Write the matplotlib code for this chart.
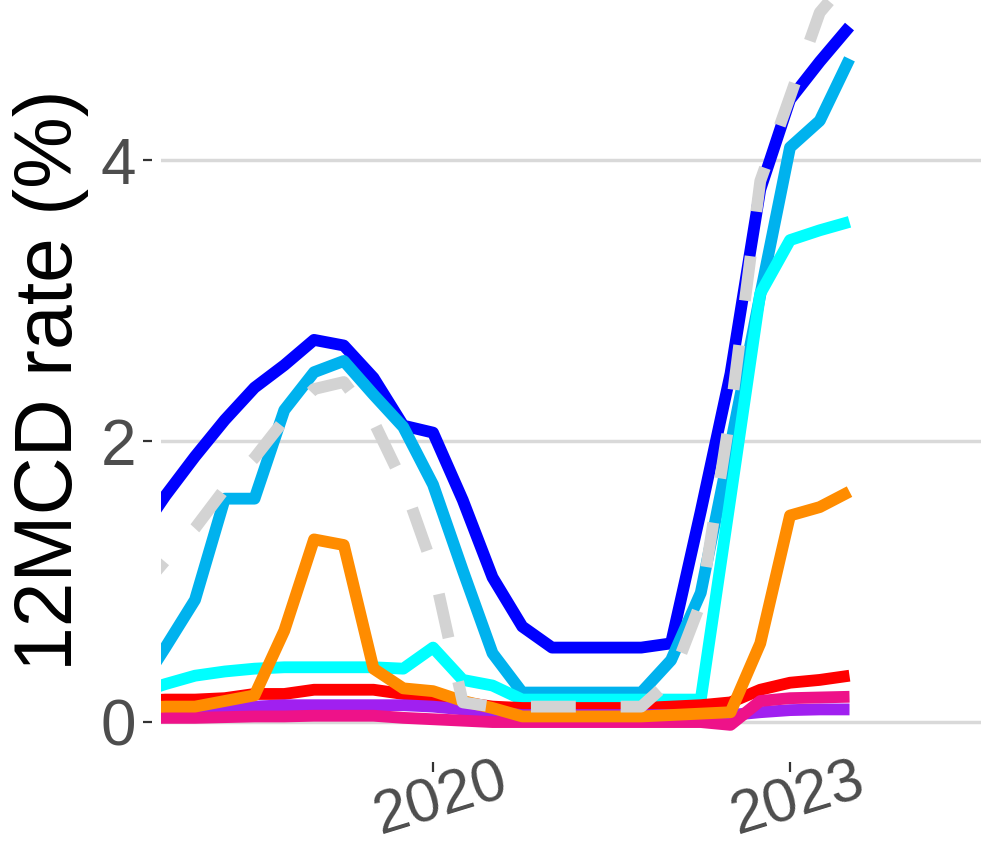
import numpy as np
import matplotlib.pyplot as plt

plt.rcParams['font.family'] = ['Liberation Sans', 'DejaVu Sans']

# datos trimestrales, de 2017 T3 a 2023 T3 (el primero queda fuera del panel)
blue = [1.30, 1.61, 1.89, 2.15, 2.38, 2.54, 2.72, 2.68, 2.45, 2.11, 2.06, 1.58, 1.03,
        0.68, 0.53, 0.53, 0.53, 0.53, 0.56, 1.50, 2.48, 3.79, 4.43, 4.70, 4.95]
lightblue = [0.20, 0.53, 0.87, 1.59, 1.59, 2.22, 2.49, 2.57, 2.33, 2.10, 1.69, 1.08, 0.49,
             0.21, 0.21, 0.21, 0.21, 0.21, 0.44, 0.92, 1.97, 3.04, 4.09, 4.28, 4.72]
cyan = [0.20, 0.27, 0.33, 0.36, 0.38, 0.39, 0.39, 0.39, 0.39, 0.38, 0.53, 0.30, 0.26,
        0.16, 0.16, 0.16, 0.16, 0.16, 0.16, 0.16, 1.60, 3.05, 3.43, 3.50, 3.56]
red = [0.15, 0.16, 0.16, 0.17, 0.20, 0.20, 0.23, 0.23, 0.23, 0.20, 0.17, 0.14, 0.11,
       0.10, 0.10, 0.10, 0.10, 0.10, 0.11, 0.12, 0.14, 0.23, 0.28, 0.30, 0.33]
purple = [0.08, 0.08, 0.08, 0.09, 0.11, 0.12, 0.12, 0.12, 0.12, 0.12, 0.11, 0.09, 0.07,
          0.05, 0.05, 0.05, 0.05, 0.05, 0.05, 0.05, 0.05, 0.07, 0.085, 0.09, 0.09]
pink = [0.03, 0.03, 0.03, 0.035, 0.04, 0.04, 0.045, 0.045, 0.045, 0.03, 0.02, 0.01, 0.0,
        0.0, 0.0, 0.0, 0.0, 0.0, 0.0, 0.0, -0.02, 0.15, 0.17, 0.175, 0.18]
orange = [0.10, 0.11, 0.11, 0.15, 0.19, 0.65, 1.30, 1.26, 0.38, 0.24, 0.22, 0.15, 0.10,
          0.04, 0.04, 0.04, 0.04, 0.04, 0.05, 0.06, 0.07, 0.56, 1.47, 1.53, 1.64]
dashed = [0.90, 1.15, 1.38, 1.66, 1.88, 2.15, 2.37, 2.42, 2.14, 1.70, 1.10, 0.14, 0.11,
          0.11, 0.11, 0.11, 0.11, 0.11, 0.30, 0.85, 2.20, 3.85, 4.45, 5.05, 5.30]

years = [2020, 2023]

t = 2017.5 + 0.25 * np.arange(len(blue))

fig = plt.figure(figsize=(9.81, 8.51), dpi=100)
ax = fig.add_axes([161/981, 91/851, 820/981, 760/851])

series = [(blue, '#0000FF'), (lightblue, '#00B2EE'), (cyan, '#00FFFF'),
          (red, '#FF0000'), (purple, '#A020F0'), (pink, '#EE1289'), (orange, '#FF8C00')]
for vals, col in series:
    ax.plot(t, vals, color=col, lw=8.5, solid_capstyle='butt', solid_joinstyle='round')
ax.plot(t, dashed, color='#D3D3D3', lw=8.5, dashes=(3.8, 3.8), dash_capstyle='butt')

ax.set_xlim(2017.714, 2024.605)
ax.set_ylim(-0.27, 5.139)
ax.set_yticks([0, 2, 4])
ax.set_xticks(years)
ax.set_xticklabels([str(y) for y in years])

ax.grid(axis='y', color='#D9D9D9', lw=2.5)
ax.set_axisbelow(True)
for s in ['top', 'right']:
    ax.spines[s].set_visible(False)
ax.spines['left'].set_position(('outward', 6.5))
ax.spines['bottom'].set_position(('outward', 1.5))
ax.spines['left'].set_color('none')
ax.spines['bottom'].set_color('none')

ax.tick_params(axis='y', length=6.5, width=1.6, color='#333333', pad=5,
               labelsize=46, labelcolor='#4D4D4D')
ax.tick_params(axis='x', length=7.2, width=1.6, color='#333333', pad=0,
               labelsize=44, labelcolor='#4D4D4D', labelrotation=17)
for lab in ax.get_xticklabels():
    lab.set_ha('center')
    lab.set_va('top')
    lab.set_rotation_mode('anchor')

ax.set_ylabel('12MCD rate (%)', fontsize=58, color='black', labelpad=8)

fig.savefig('out.png', dpi=100)
